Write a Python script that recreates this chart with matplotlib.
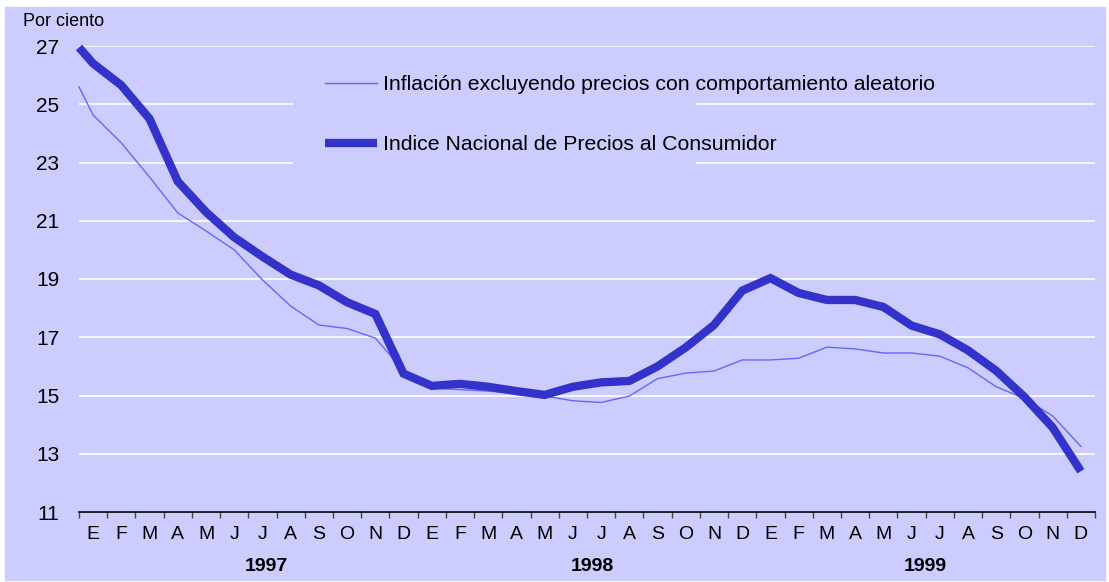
import matplotlib
matplotlib.use('Agg')
import matplotlib.pyplot as plt
from matplotlib.patches import Rectangle
import numpy as np

plt.rcParams['font.family'] = ['Liberation Sans', 'DejaVu Sans']

# meses: dic 1996 (borde) + ene 1997 ... dic 1999
months = ['E', 'F', 'M', 'A', 'M', 'J', 'J', 'A', 'S', 'O', 'N', 'D'] * 3
years = ['1997', '1998', '1999']
year_pos = [6.65, 18.2, 30.0]

# Inflacion excluyendo precios con comportamiento aleatorio
subyacente = [25.6, 24.63, 23.67, 22.5, 21.27, 20.65, 20.0, 18.97, 18.07, 17.42,
              17.3, 16.97, 15.85,
              15.26, 15.2, 15.15, 15.07, 14.98, 14.82, 14.76, 14.98, 15.58, 15.77,
              15.84, 16.22,
              16.22, 16.28, 16.66, 16.6, 16.46, 16.46, 16.35, 15.95, 15.3, 14.9,
              14.3, 13.25]
# Indice Nacional de Precios al Consumidor
inpc = [26.95, 26.4, 25.65, 24.5, 22.35, 21.3, 20.43, 19.77, 19.15, 18.78,
        18.2, 17.8, 15.75,
        15.33, 15.4, 15.3, 15.15, 15.02, 15.3, 15.45, 15.5, 16.0, 16.65,
        17.42, 18.6,
        19.03, 18.52, 18.28, 18.28, 18.04, 17.4, 17.1, 16.55, 15.85, 14.95,
        13.9, 12.4]

x = np.array([0] + [i + 0.5 for i in range(36)])

BG = '#CCCCFF'
W, H = 1109, 582
fig = plt.figure(figsize=(W / 100, H / 100), dpi=100)
fig.patches.append(Rectangle((5 / W, 2 / H), 1100 / W, 573 / H,
                             transform=fig.transFigure, color=BG, zorder=-10))

ax = fig.add_axes([79 / W, 1 - 512 / H, 1016 / W, 466 / H])
ax.set_facecolor(BG)
ax.set_axisbelow(True)

ax.plot(x, subyacente, color='#6666FF', lw=1.0, zorder=3, clip_on=False,
        label='Inflación excluyendo precios con comportamiento aleatorio')
ax.plot(x, inpc, color='#3333CC', lw=6, zorder=4, clip_on=False,
        solid_joinstyle='miter', solid_capstyle='butt',
        label='Indice Nacional de Precios al Consumidor')

ax.set_xlim(0, 36)
ax.set_ylim(11, 27)
ax.set_yticks(range(11, 28, 2))
ax.yaxis.grid(True, color='white', lw=1.2)
ax.tick_params(axis='y', length=0, pad=14, labelsize=15)

ax.set_xticks(range(37))
ax.set_xticklabels([])
ax.set_xticks(np.arange(36) + 0.5, minor=True)
ax.set_xticklabels(months, minor=True)
ax.tick_params(axis='x', which='major', direction='out', length=4,
               color='#444444', width=1)
ax.tick_params(axis='x', which='minor', length=0, pad=10, labelsize=14)

for s in ['top', 'right', 'left']:
    ax.spines[s].set_visible(False)
ax.spines['bottom'].set_color('black')
ax.spines['bottom'].set_linewidth(1.2)

for yr, p in zip(years, year_pos):
    ax.text(p, -0.118, yr, transform=ax.get_xaxis_transform(), ha='center',
            va='center', fontsize=14, fontweight='bold')

# fondo de la leyenda que tapa las lineas de la cuadricula
ax.add_patch(Rectangle((0.2106, 0.69), 0.397, 0.28, transform=ax.transAxes,
                       color=BG, zorder=1, lw=0))

ax.legend(loc='upper left', bbox_to_anchor=(325 / W, 1 - 75 / H),
          bbox_transform=fig.transFigure, frameon=False, fontsize=15.3,
          borderpad=0, borderaxespad=0, handlelength=2.45, handletextpad=0.28,
          labelspacing=1.94)

fig.text(23 / W, 1 - 21 / H, 'Por ciento', ha='left', va='center', fontsize=13)

fig.savefig('out.png', dpi=100)
